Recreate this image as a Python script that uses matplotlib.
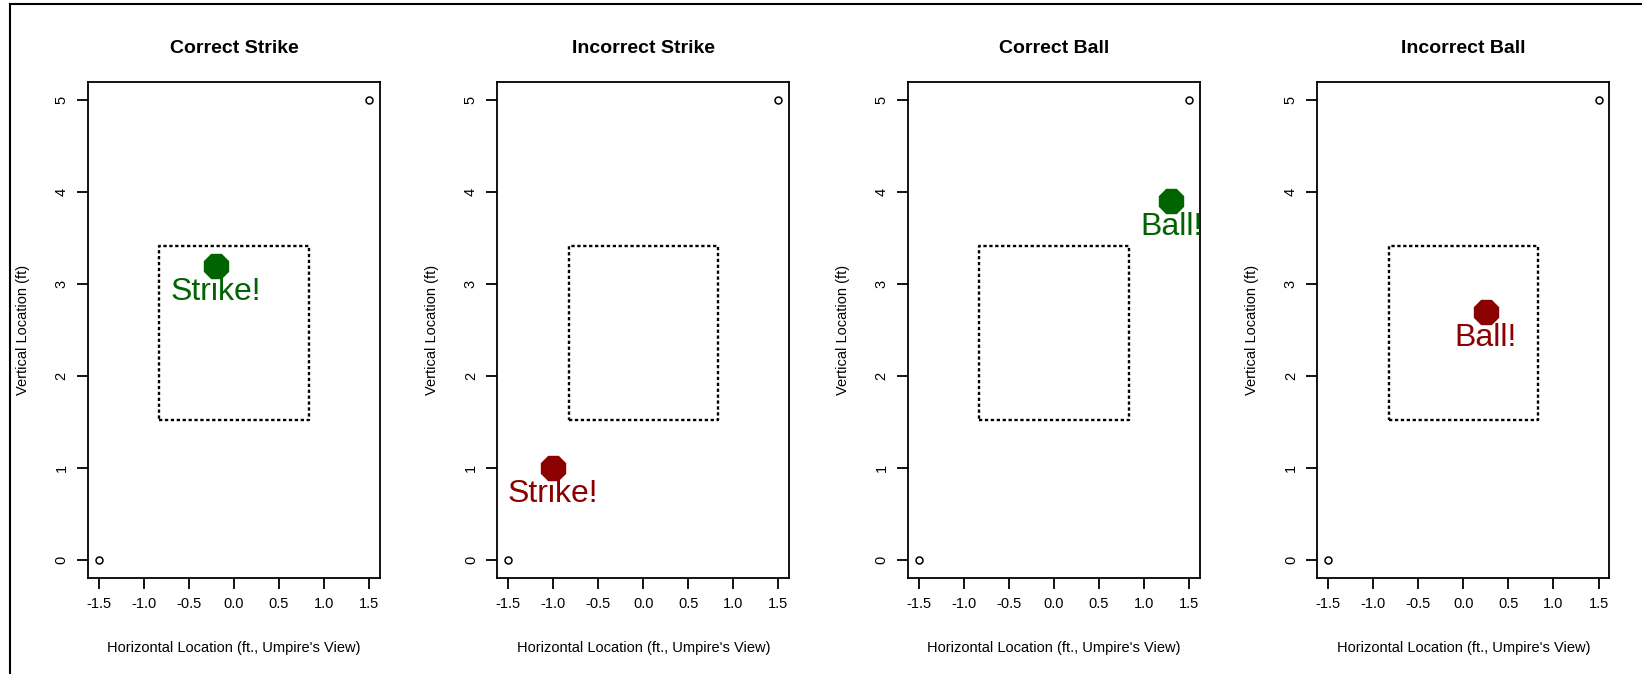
import matplotlib.pyplot as plt
from matplotlib.lines import Line2D

plt.rcParams["font.family"] = ["Liberation Sans", "DejaVu Sans"]
plt.rcParams["axes.unicode_minus"] = False

# one panel per umpire outcome
titles = ["Correct Strike", "Incorrect Strike", "Correct Ball", "Incorrect Ball"]
pitch_x = [-0.2, -1.0, 1.3, 0.25]
pitch_z = [3.2, 1.0, 3.9, 2.7]
calls = ["Strike!", "Strike!", "Ball!", "Ball!"]
colors = ["darkgreen", "darkred", "darkgreen", "darkred"]

# strike zone box (ft)
sz_x = [-0.83, 0.83, 0.83, -0.83, -0.83]
sz_z = [1.52, 1.52, 3.41, 3.41, 1.52]

# corner points that fix the plot range
range_x = [-1.5, 1.5]
range_z = [0, 5]

x_ticks = [-1.5, -1.0, -0.5, 0.0, 0.5, 1.0, 1.5]
y_ticks = [0, 1, 2, 3, 4, 5]

fig = plt.figure(figsize=(16.42, 6.74), dpi=100)
lefts = [0.0536, 0.3029, 0.553, 0.8023]

for i, left in enumerate(lefts):
    ax = fig.add_axes([left, 0.1424, 0.1778, 0.736])
    ax.plot(range_x, range_z, "o", ms=5, mfc="white", mec="black", mew=1.1, ls="none")
    ax.plot(sz_x, sz_z, color="black", lw=1.7, dashes=(1.4, 1.1))
    ax.plot(pitch_x[i], pitch_z[i], marker="8", ms=18, color=colors[i], ls="none")
    ax.text(pitch_x[i], pitch_z[i] - 0.37, calls[i], color=colors[i],
            fontsize=23, ha="center", va="baseline")

    ax.set_xlim(-1.62, 1.62)
    ax.set_ylim(-0.2, 5.2)
    ax.set_xticks(x_ticks, [f"{v:.1f}" for v in x_ticks])
    ax.set_yticks(y_ticks, [str(v) for v in y_ticks])
    ax.tick_params(axis="both", length=8, width=1.3, labelsize=10.5, pad=6)
    ax.tick_params(axis="y", labelrotation=90)
    for lab in ax.get_yticklabels():
        lab.set_va("center")
    for sp in ax.spines.values():
        sp.set_linewidth(1.3)

    ax.set_title(titles[i], fontsize=14, fontweight="bold", pad=20.5)
    ax.set_xlabel("Horizontal Location (ft., Umpire's View)", fontsize=10.5, labelpad=21)
    ax.set_ylabel("Vertical Location (ft)", fontsize=10.5, labelpad=18)

# outer frame (right and bottom edges are cut off in the original)
fx = 10 / 1642
fy = 1 - 4 / 674
fig.add_artist(Line2D([fx, fx], [0, fy], color="black", lw=1.5, transform=fig.transFigure))
fig.add_artist(Line2D([fx, 1], [fy, fy], color="black", lw=1.5, transform=fig.transFigure))

fig.savefig("out.png", dpi=100)
